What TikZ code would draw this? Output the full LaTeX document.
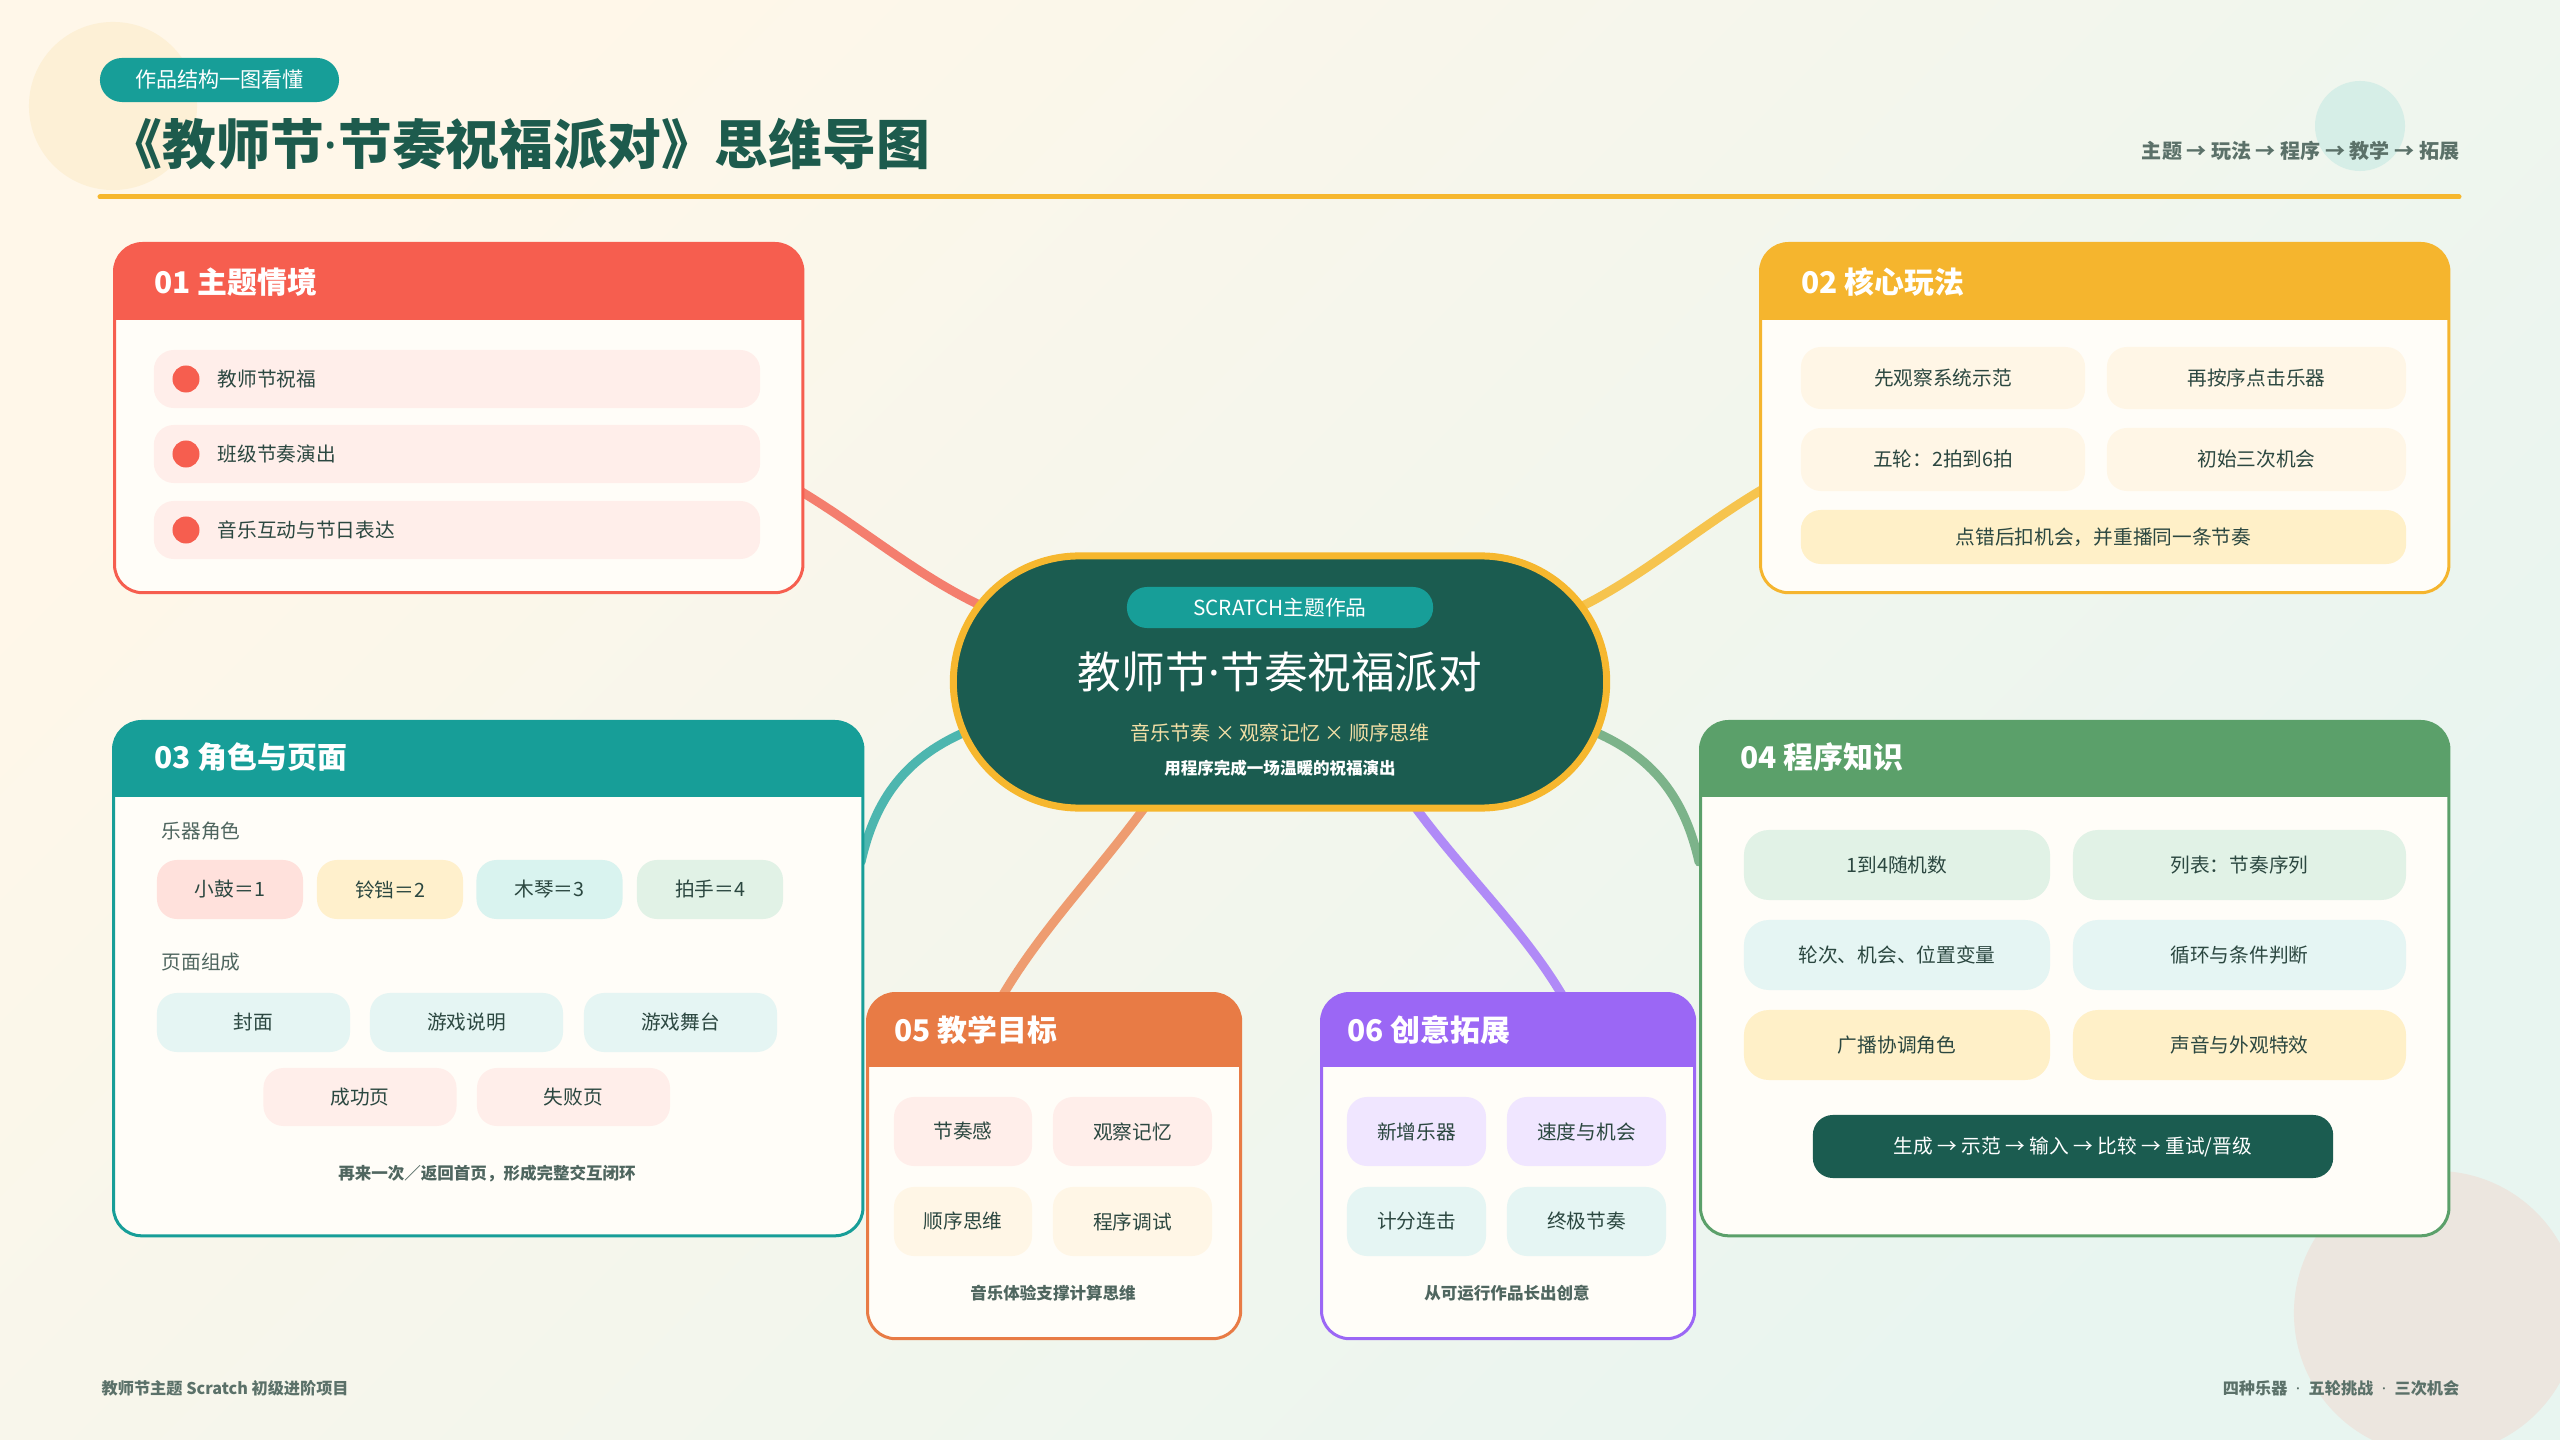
\documentclass[tikz,border=0pt]{standalone}
\usepackage{fontspec}
\setmainfont{Noto Sans CJK SC}
\newfontfamily\latinf{Noto Sans}
\usetikzlibrary{calc}
\newcommand\fsz[1]{\fontsize{#1}{#1}\selectfont}
\definecolor{bgA}{HTML}{FFF7E9}
\definecolor{bgM}{HTML}{FEFCF6}
\definecolor{bgB}{HTML}{E8F5F0}
\definecolor{dkgreen}{HTML}{1B5C50}
\definecolor{titlec}{HTML}{1D5B4D}
\definecolor{gold}{HTML}{F6B72E}
\definecolor{navc}{HTML}{5B7169}
\definecolor{txt}{HTML}{2B4740}
\definecolor{lbl}{HTML}{4F665F}
\definecolor{bodyc}{HTML}{FFFDF8}
\definecolor{cRed}{HTML}{F65E4F}
\definecolor{cYel}{HTML}{F5B52E}
\definecolor{cTeal}{HTML}{179E98}
\definecolor{cGreen}{HTML}{5BA06A}
\definecolor{cOrange}{HTML}{E87B45}
\definecolor{cPurple}{HTML}{9B67F5}
\definecolor{lRed}{HTML}{F47E6E}
\definecolor{lYel}{HTML}{F6C44E}
\definecolor{lTeal}{HTML}{4DB6AF}
\definecolor{lGreen}{HTML}{7CB38A}
\definecolor{lOrange}{HTML}{EE9C70}
\definecolor{lPurple}{HTML}{B08AF7}
\definecolor{pinkL}{HTML}{FFEEEA}
\definecolor{creamL}{HTML}{FFF6E6}
\definecolor{yellowL}{HTML}{FFF0C8}
\definecolor{pinkM}{HTML}{FFE1DC}
\definecolor{yellowM}{HTML}{FFF0CC}
\definecolor{mintM}{HTML}{D9F3EF}
\definecolor{greenL}{HTML}{E1F2E6}
\definecolor{tealL}{HTML}{E5F5F3}
\definecolor{lavL}{HTML}{F0E6FF}
\definecolor{circA}{HTML}{FDF0D6}
\definecolor{circB}{HTML}{D6EEE7}
\definecolor{circC}{HTML}{ECE6DF}
\definecolor{subc}{HTML}{F3DFA6}
\tikzset{
  box/.style={draw=#1, line width=0.03cm, fill=bodyc, rounded corners=0.28cm, anchor=north west, inner sep=0pt},
  hdr/.style 2 args={path picture={\fill[#1, sharp corners] (path picture bounding box.north west) rectangle ([yshift=-#2]path picture bounding box.north east);}},
  htext/.style={anchor=west, text=white, font=\fsz{8.5pt}\bfseries, inner sep=0pt},
  chip/.style={fill=#1, rounded corners=0.2cm, inner sep=0pt, text=txt, font=\fsz{5.6pt}},
  lbltext/.style={anchor=west, text=lbl, font=\fsz{5.6pt}, inner sep=0pt},
  foot/.style={text=lbl, font=\fsz{4.7pt}\bfseries, inner sep=0pt},
  dot/.style={circle, fill=cRed, minimum size=0.27cm, inner sep=0pt},
  conn/.style={draw=#1, line width=0.09cm, line cap=round},
}
\begin{document}
\begin{tikzpicture}[x=0.01cm,y=-0.01cm]
\useasboundingbox (0,0) rectangle (2560,1440);
% background
\shade[left color=bgA, middle color=bgM, right color=bgB, shading angle=45] (0,0) rectangle (2560,1440);
\fill[circA] (113,106) circle (0.84cm);
\fill[circB] (2360,126) circle (0.45cm);
\fill[circC] (2436,1313) circle (1.42cm);

% header
\node[fill=cTeal, rounded corners=0.22cm, minimum width=2.39cm, minimum height=0.44cm, inner sep=0pt, text=white, font=\fsz{6pt}] (tag) at (219.5,80) {作品结构一图看懂};
\node[anchor=west, inner sep=0pt, text=titlec, font=\fsz{15.3pt}\bfseries] (title) at (108,144) {《教师节{\latinf\bfseries ·}节奏祝福派对》思维导图};
\draw[gold, line width=0.05cm, line cap=round] (100,197) -- (2459,197);
\node[anchor=east, inner sep=0pt, text=navc, font=\fsz{5.7pt}\bfseries] (nav) at (2460,151) {主题 → 玩法 → 程序 → 教学 → 拓展};

% connectors
\coordinate (r1) at (790,485); \coordinate (r2) at (995,612);
\coordinate (y1) at (1770,485); \coordinate (y2) at (1570,612);
\coordinate (t1) at (861,862); \coordinate (t2) at (975,728);
\coordinate (g1) at (1699,862); \coordinate (g2) at (1585,728);
\coordinate (o1) at (1150,800); \coordinate (o2) at (1000,1000);
\coordinate (p1) at (1410,800); \coordinate (p2) at (1565,1000);
\draw[conn=lRed] (r1) .. controls (860,525) and (920,580) .. (r2);
\draw[conn=lYel] (y1) .. controls (1700,525) and (1640,580) .. (y2);
\draw[conn=lTeal] (t1) .. controls (875,800) and (905,755) .. (t2);
\draw[conn=lGreen] (g1) .. controls (1685,800) and (1655,755) .. (g2);
\draw[conn=lOrange] (o1) .. controls (1100,870) and (1040,930) .. (o2);
\draw[conn=lPurple] (p1) .. controls (1460,870) and (1525,930) .. (p2);

% center
\node[draw=gold, line width=0.07cm, fill=dkgreen, rounded corners=1.26cm, minimum width=6.53cm, minimum height=2.52cm, inner sep=0pt] (ctr) at (1280,682) {};
\node[fill=cTeal, rounded corners=0.2cm, minimum width=3.06cm, minimum height=0.41cm, inner sep=0pt, text=white, font=\fsz{5.9pt}] (ctag) at (1280,607.5) {SCRATCH主题作品};
\node[inner sep=0pt, text=white, font=\fsz{12.4pt}] (cmain) at (1280,672) {教师节{\latinf ·}节奏祝福派对};
\node[inner sep=0pt, text=subc, font=\fsz{5.7pt}] (csub) at (1280,733) {音乐节奏 × 观察记忆 × 顺序思维};
\node[inner sep=0pt, text=white, font=\fsz{4.7pt}\bfseries] (csmall) at (1280,768) {用程序完成一场温暖的祝福演出};

% box 01
\node[box=cRed, hdr={cRed}{0.76cm}, minimum width=6.88cm, minimum height=3.49cm] (b1) at (113,242) {};
\node[htext] (h1) at (154,282) {01 主题情境};
\node[chip=pinkL, minimum width=6.06cm, minimum height=0.58cm] (a1) at (457,379) {};
\node[chip=pinkL, minimum width=6.06cm, minimum height=0.58cm] (a2) at (457,454) {};
\node[chip=pinkL, minimum width=6.06cm, minimum height=0.58cm] (a3) at (457,530) {};
\node[dot] (d1) at (186,379) {};
\node[dot] (d2) at (186,454) {};
\node[dot] (d3) at (186,530) {};
\node[anchor=west, inner sep=0pt, text=txt, font=\fsz{5.6pt}] (t1a) at (217,379) {教师节祝福};
\node[anchor=west, inner sep=0pt, text=txt, font=\fsz{5.6pt}] (t2a) at (217,454) {班级节奏演出};
\node[anchor=west, inner sep=0pt, text=txt, font=\fsz{5.6pt}] (t3a) at (217,530) {音乐互动与节日表达};

% box 02
\node[box=cYel, hdr={cYel}{0.76cm}, minimum width=6.88cm, minimum height=3.49cm] (b2) at (1759,242) {};
\node[htext] (h2) at (1801,282) {02 核心玩法};
\node[chip=creamL, minimum width=2.84cm, minimum height=0.62cm] (e1) at (1943,378) {先观察系统示范};
\node[chip=creamL, minimum width=2.99cm, minimum height=0.62cm] (e2) at (2256.5,378) {再按序点击乐器};
\node[chip=creamL, minimum width=2.84cm, minimum height=0.63cm] (e3) at (1943,459.5) {五轮：2拍到6拍};
\node[chip=creamL, minimum width=2.99cm, minimum height=0.63cm] (e4) at (2256.5,459.5) {初始三次机会};
\node[chip=yellowL, minimum width=6.05cm, minimum height=0.54cm] (e5) at (2103.5,537) {点错后扣机会，并重播同一条节奏};

% box 03
\node[box=cTeal, hdr={cTeal}{0.75cm}, minimum width=7.49cm, minimum height=5.14cm] (b3) at (112,720) {};
\node[htext] (h3) at (154,757) {03 角色与页面};
\node[lbltext] (l1) at (161,831) {乐器角色};
\node[chip=pinkM, minimum width=1.46cm, minimum height=0.59cm] (i1) at (230,889.5) {小鼓＝1};
\node[chip=yellowM, minimum width=1.46cm, minimum height=0.59cm] (i2) at (390,889.5) {铃铛＝2};
\node[chip=mintM, minimum width=1.46cm, minimum height=0.59cm] (i3) at (549.5,889.5) {木琴＝3};
\node[chip=greenL, minimum width=1.46cm, minimum height=0.59cm] (i4) at (710,889.5) {拍手＝4};
\node[lbltext] (l2) at (161,962) {页面组成};
\node[chip=tealL, minimum width=1.93cm, minimum height=0.59cm] (pg1) at (253.5,1022.5) {封面};
\node[chip=tealL, minimum width=1.93cm, minimum height=0.59cm] (pg2) at (466.5,1022.5) {游戏说明};
\node[chip=tealL, minimum width=1.93cm, minimum height=0.59cm] (pg3) at (680.5,1022.5) {游戏舞台};
\node[chip=pinkL, minimum width=1.93cm, minimum height=0.58cm] (pg4) at (360,1097) {成功页};
\node[chip=pinkL, minimum width=1.93cm, minimum height=0.58cm] (pg5) at (573.5,1097) {失败页};
\node[foot] (f3) at (487,1174) {再来一次／返回首页，形成完整交互闭环};

% box 04
\node[box=cGreen, hdr={cGreen}{0.75cm}, minimum width=7.48cm, minimum height=5.14cm] (b4) at (1699,720) {};
\node[htext] (h4) at (1740,757) {04 程序知识};
\node[chip=greenL, rounded corners=0.25cm, minimum width=3.06cm, minimum height=0.70cm] (k1) at (1897,865) {1到4随机数};
\node[chip=greenL, rounded corners=0.25cm, minimum width=3.33cm, minimum height=0.70cm] (k2) at (2239.5,865) {列表：节奏序列};
\node[chip=tealL, rounded corners=0.25cm, minimum width=3.06cm, minimum height=0.70cm] (k3) at (1897,955) {轮次、机会、位置变量};
\node[chip=tealL, rounded corners=0.25cm, minimum width=3.33cm, minimum height=0.70cm] (k4) at (2239.5,955) {循环与条件判断};
\node[chip=yellowL, rounded corners=0.25cm, minimum width=3.06cm, minimum height=0.70cm] (k5) at (1897,1045) {广播协调角色};
\node[chip=yellowL, rounded corners=0.25cm, minimum width=3.33cm, minimum height=0.70cm] (k6) at (2239.5,1045) {声音与外观特效};
\node[fill=dkgreen, rounded corners=0.2cm, minimum width=5.2cm, minimum height=0.63cm, inner sep=0pt, text=white, font=\fsz{5.6pt}] (flow) at (2073,1146.5) {生成 → 示范 → 输入 → 比较 → 重试/晋级};

% box 05
\node[box=cOrange, hdr={cOrange}{0.73cm}, minimum width=3.73cm, minimum height=3.45cm] (b5) at (866,992) {};
\node[htext] (h5) at (894,1030) {05 教学目标};
\node[chip=pinkL, minimum width=1.38cm, minimum height=0.69cm] (g1n) at (963,1131.5) {节奏感};
\node[chip=pinkL, minimum width=1.59cm, minimum height=0.69cm] (g2n) at (1132.5,1131.5) {观察记忆};
\node[chip=creamL, minimum width=1.38cm, minimum height=0.69cm] (g3n) at (963,1221.5) {顺序思维};
\node[chip=creamL, minimum width=1.59cm, minimum height=0.69cm] (g4n) at (1132.5,1221.5) {程序调试};
\node[foot] (f5) at (1053,1293) {音乐体验支撑计算思维};

% box 06
\node[box=cPurple, hdr={cPurple}{0.73cm}, minimum width=3.73cm, minimum height=3.45cm] (b6) at (1320,992) {};
\node[htext] (h6) at (1347,1030) {06 创意拓展};
\node[chip=lavL, minimum width=1.39cm, minimum height=0.69cm] (x1) at (1416.5,1131.5) {新增乐器};
\node[chip=lavL, minimum width=1.59cm, minimum height=0.69cm] (x2) at (1586.5,1131.5) {速度与机会};
\node[chip=tealL, minimum width=1.39cm, minimum height=0.69cm] (x3) at (1416.5,1221.5) {计分连击};
\node[chip=tealL, minimum width=1.59cm, minimum height=0.69cm] (x4) at (1586.5,1221.5) {终极节奏};
\node[foot] (f6) at (1507,1293) {从可运行作品长出创意};

% footer
\node[anchor=west, inner sep=0pt, text=navc, font=\fsz{4.6pt}\bfseries] (fl) at (101,1388) {教师节主题 Scratch 初级进阶项目};
\node[anchor=east, inner sep=0pt, text=navc, font=\fsz{4.6pt}\bfseries] (fr) at (2460,1388) {四种乐器\hspace{2.4pt}{\latinf\bfseries ·}\hspace{2.4pt}五轮挑战\hspace{2.4pt}{\latinf\bfseries ·}\hspace{2.4pt}三次机会};
\end{tikzpicture}
\end{document}
